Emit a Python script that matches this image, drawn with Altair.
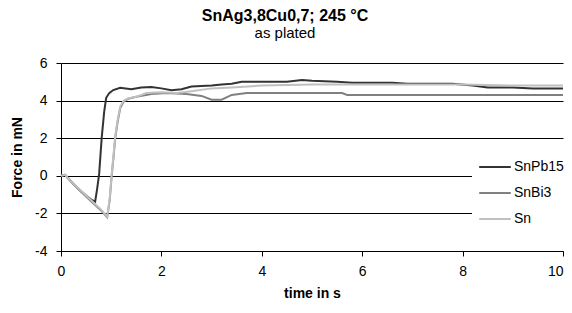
import altair as alt
import pandas as pd

series_names = ["SnPb15", "SnBi3", "Sn"]
series_colors = ["#333333", "#808080", "#c0c0c0"]

t_snpb15 = [0, 0.08, 0.2, 0.35, 0.5, 0.62, 0.68, 0.72, 0.76, 0.81, 0.86, 0.9, 0.96, 1.04, 1.18,
            1.4, 1.6, 1.8, 2.0, 2.2, 2.4, 2.6, 2.8, 3.0, 3.2, 3.4, 3.6, 4.0, 4.5, 4.8, 5.0, 5.5,
            5.8, 6.2, 6.6, 6.9, 7.2, 7.5, 7.8, 8.2, 8.5, 9.0, 9.4, 10]
v_snpb15 = [0, 0.05, -0.3, -0.7, -1.05, -1.3, -1.38, -0.7, 0.1, 2.0, 3.4, 4.15, 4.4, 4.56, 4.68,
            4.6, 4.7, 4.72, 4.65, 4.55, 4.6, 4.75, 4.78, 4.8, 4.85, 4.9, 5.0, 5.0, 5.0, 5.1, 5.05, 5.0,
            4.95, 4.95, 4.95, 4.9, 4.9, 4.9, 4.9, 4.8, 4.7, 4.7, 4.65, 4.65]

t_snbi3 = [0, 0.08, 0.2, 0.4, 0.6, 0.8, 0.92, 0.97, 1.01, 1.05, 1.08, 1.13, 1.18, 1.25, 1.34,
           1.5, 1.8, 2.1, 2.5, 2.8, 3.0, 3.2, 3.4, 3.7, 4.5, 5.6, 5.7, 7.0, 8.0, 9.0, 10]
v_snbi3 = [0, 0.05, -0.3, -0.85, -1.35, -1.85, -2.2, -1.3, 0.0, 1.1, 2.0, 2.9, 3.6, 3.95, 4.1,
           4.2, 4.35, 4.4, 4.35, 4.25, 4.05, 4.05, 4.3, 4.4, 4.4, 4.4, 4.3, 4.3, 4.3, 4.3, 4.3]

t_sn = [0, 0.08, 0.2, 0.4, 0.6, 0.8, 0.92, 0.97, 1.01, 1.05, 1.08, 1.13, 1.18, 1.25, 1.34,
        1.5, 1.7, 2.0, 2.3, 2.6, 3.0, 3.4, 4.0, 5.0, 6.0, 7.0, 8.0, 9.0, 10]
v_sn = [0, 0.05, -0.3, -0.8, -1.3, -1.8, -2.17, -1.2, 0.1, 1.2, 2.1, 3.0, 3.68, 4.0, 4.12,
        4.2, 4.4, 4.45, 4.4, 4.5, 4.65, 4.7, 4.8, 4.85, 4.85, 4.85, 4.85, 4.8, 4.8]

x_ticks = [0, 2, 4, 6, 8, 10]
y_ticks = [-4, -2, 0, 2, 4, 6]

rows = []
for name, ts, vs in [("SnPb15", t_snpb15, v_snpb15), ("SnBi3", t_snbi3, v_snbi3), ("Sn", t_sn, v_sn)]:
    for i, (t, v) in enumerate(zip(ts, vs)):
        rows.append({"series": name, "t": t, "v": v, "i": i})
df = pd.DataFrame(rows)

FONT = "Liberation Sans"

color = alt.Color(
    "series:N",
    scale=alt.Scale(domain=series_names, range=series_colors),
    legend=alt.Legend(
        title=None, orient="none", legendX=411, legendY=85,
        symbolType="stroke", symbolSize=1000, symbolStrokeWidth=2,
        labelFont=FONT, labelFontSize=14, labelColor="black",
        fillColor="white", padding=6, rowPadding=0, clipHeight=26, labelOffset=2,
    ),
)

def layer_for(name):
    return alt.Chart(df).transform_filter(alt.datum.series == name).mark_line(strokeWidth=2).encode(
        x=alt.X("t:Q", scale=alt.Scale(domain=[0, 10], nice=False),
                axis=alt.Axis(values=x_ticks, title="time in s", grid=False, tickSize=5,
                              labelPadding=8, titlePadding=8,
                              labelAlign={"condition": {"test": "datum.value == 10", "value": "right"},
                                          "value": "center"})),
        y=alt.Y("v:Q", scale=alt.Scale(domain=[-4, 6], nice=False),
                axis=alt.Axis(values=y_ticks, title="Force in mN", grid=True, tickSize=5,
                              labelPadding=9, titlePadding=10,
                              labelExpr="toString(datum.value)")),
        color=color,
        order="i:Q",
    )

chart = alt.layer(*[layer_for(n) for n in series_names]).properties(
    width=502, height=188,
    title=alt.TitleParams(
        text="SnAg3,8Cu0,7; 245 °C", subtitle="as plated",
        font=FONT, fontSize=16, fontWeight="bold",
        subtitleFont=FONT, subtitleFontSize=15, subtitleColor="black",
        anchor="middle", dx=-27, offset=15, subtitlePadding=2, color="black",
    ),
    autosize=alt.AutoSizeParams(type="none"),
    padding={"left": 53, "top": 55, "right": 1, "bottom": 50},
).configure_axis(
    labelFont=FONT, labelFontSize=14, labelColor="black",
    titleFont=FONT, titleFontSize=14, titleFontWeight="bold", titleColor="black",
    domainColor="black", tickColor="black", gridColor="black", gridOpacity=1,
    domainWidth=1, gridWidth=1, tickWidth=1,
).configure_view(stroke=None)

chart.save("out.html", embed_options={"renderer": "svg", "actions": False})
